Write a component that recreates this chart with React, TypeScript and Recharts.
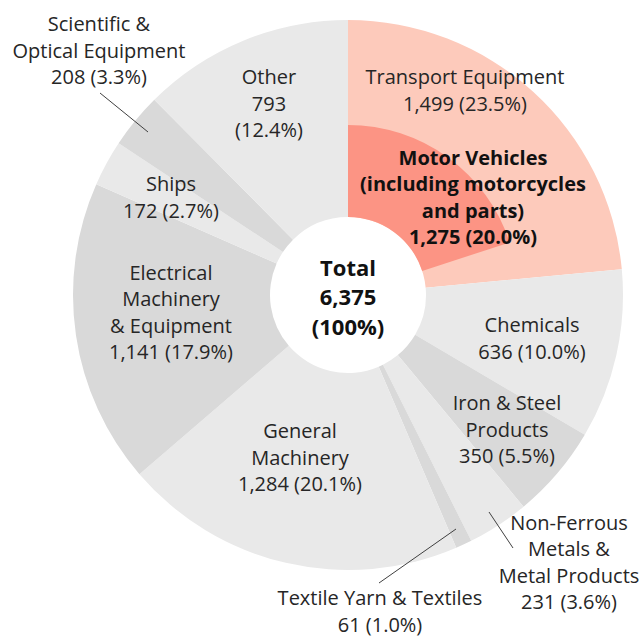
import { Cell, Pie, PieChart } from 'recharts'

const CATEGORIES = [
  'Transport Equipment',
  'Chemicals',
  'Iron & Steel Products',
  'Non-Ferrous Metals & Metal Products',
  'Textile Yarn & Textiles',
  'General Machinery',
  'Electrical Machinery & Equipment',
  'Ships',
  'Scientific & Optical Equipment',
  'Other',
]
const VALUES = [1499, 636, 350, 231, 61, 1284, 1141, 172, 208, 793]
const SHARES = ['23.5%', '10.0%', '5.5%', '3.6%', '1.0%', '20.1%', '17.9%', '2.7%', '3.3%', '12.4%']
// how each label is broken into lines ({v} = value + share)
const LABEL_LINES = [
  ['Transport Equipment', '{v}'],
  ['Chemicals', '{v}'],
  ['Iron & Steel', 'Products', '{v}'],
  ['Non-Ferrous', 'Metals &', 'Metal Products', '{v}'],
  ['Textile Yarn & Textiles', '{v}'],
  ['General', 'Machinery', '{v}'],
  ['Electrical', 'Machinery', '& Equipment', '{v}'],
  ['Ships', '{v}'],
  ['Scientific &', 'Optical Equipment', '{v}'],
  ['Other', '{n}', '({s})'],
]

const MOTOR_VALUE = 1275
const MOTOR_SHARE = '20.0%'
const MOTOR_LINES = ['Motor Vehicles', '(including motorcycles', 'and parts)']

const TOTAL = VALUES.reduce((s, v) => s + v, 0)

const COLORS = ['#fdcabb', '#e9e9e9', '#d9d9d9', '#e9e9e9', '#d9d9d9', '#e9e9e9', '#d9d9d9', '#e9e9e9', '#d9d9d9', '#e9e9e9']

// label block centres relative to the pie centre, and optional leader lines
const LABEL_POS = [
  { dx: 117, dy: -205 },
  { dx: 184, dy: 43 },
  { dx: 159, dy: 134 },
  { dx: 221, dy: 267, line: [141, 217, 165, 253] },
  { dx: 32, dy: 316, line: [31, 288, 108, 234] },
  { dx: -48, dy: 162 },
  { dx: -177, dy: 17 },
  { dx: -177, dy: -98 },
  { dx: -249, dy: -245, line: [-248, -202, -200, -163] },
  { dx: -79, dy: -192 },
]

const FONT = '"Open Sans", "Noto Sans", sans-serif'
const LH = 26.5
const fmt = (n: number) => n.toLocaleString('en-US')

const data = CATEGORIES.map((name, i) => ({ name, value: VALUES[i] }))
const motorData = [
  { name: 'Motor Vehicles', value: MOTOR_VALUE },
  { name: 'rest', value: TOTAL - MOTOR_VALUE },
]

function TextBlock({
  x,
  y,
  lines,
  bold,
  size,
  lh = LH,
  color = '#262626',
}: {
  x: number
  y: number
  lines: string[]
  bold?: boolean
  size: number
  lh?: number
  color?: string
}) {
  const top = y - ((lines.length - 1) * lh) / 2
  return (
    <text x={x} y={top} textAnchor="middle" fill={color} fontFamily={FONT} fontSize={size} fontWeight={bold ? 700 : 400}>
      {lines.map((l, k) => (
        <tspan key={k} x={x} y={top + k * lh} dominantBaseline="central">
          {l}
        </tspan>
      ))}
    </text>
  )
}

function renderLabel(props: any) {
  const { cx, cy, index } = props
  const p = LABEL_POS[index]
  const lines = LABEL_LINES[index].map((l) =>
    l
      .replace('{v}', `${fmt(VALUES[index])} (${SHARES[index]})`)
      .replace('{n}', fmt(VALUES[index]))
      .replace('{s}', SHARES[index]),
  )
  return (
    <g key={`lbl-${index}`}>
      {p.line && (
        <line
          x1={cx + p.line[0]}
          y1={cy + p.line[1]}
          x2={cx + p.line[2]}
          y2={cy + p.line[3]}
          stroke="#404040"
          strokeWidth={1}
        />
      )}
      <TextBlock x={cx + p.dx} y={cy + p.dy} lines={lines} size={20} />
    </g>
  )
}

function renderMotorLabel(props: any) {
  const { cx, cy, index } = props
  if (index === 0) {
    return (
      <TextBlock
        key="motor"
        x={cx + 125}
        y={cy - 98}
        lines={[...MOTOR_LINES, `${fmt(MOTOR_VALUE)} (${MOTOR_SHARE})`]}
        bold
        size={20}
        color="#111"
      />
    )
  }
  // centre of the ring
  return (
    <TextBlock
      key="total"
      x={cx}
      y={cy + 1}
      lines={['Total', fmt(TOTAL), '(100%)']}
      bold
      size={22}
      lh={29.5}
      color="#111"
    />
  )
}

export default function App() {
  return (
    <div style={{ position: 'absolute', left: 0, top: 0, background: '#fff' }}>
      <PieChart width={643} height={637} margin={{ top: 0, right: 0, bottom: 0, left: 0 }}>
        <Pie
          data={data}
          dataKey="value"
          nameKey="name"
          cx={348}
          cy={295}
          innerRadius={78}
          outerRadius={275}
          startAngle={90}
          endAngle={-270}
          stroke="none"
          label={renderLabel}
          labelLine={false}
          isAnimationActive={false}
        >
          {data.map((d, i) => (
            <Cell key={d.name} fill={COLORS[i]} />
          ))}
        </Pie>
        <Pie
          data={motorData}
          dataKey="value"
          nameKey="name"
          cx={348}
          cy={295}
          innerRadius={78}
          outerRadius={170}
          startAngle={90}
          endAngle={-270}
          stroke="none"
          label={renderMotorLabel}
          labelLine={false}
          isAnimationActive={false}
        >
          <Cell fill="#fc9484" />
          <Cell fill="none" />
        </Pie>
      </PieChart>
    </div>
  )
}
